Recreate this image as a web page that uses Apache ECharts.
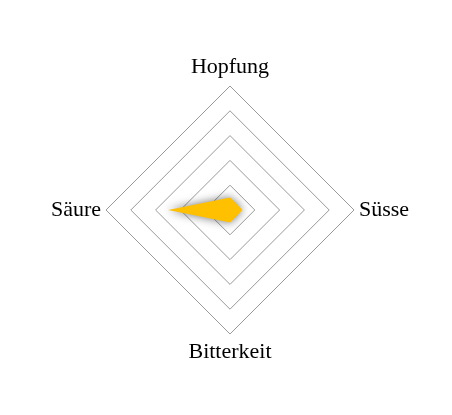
<!DOCTYPE html>
<html>
<head>
<meta charset="utf-8">
<script src="https://cdn.jsdelivr.net/npm/echarts@6/dist/echarts.min.js"></script>
<style>html,body{margin:0;padding:0;background:#fff}#c{width:452px;height:415px}</style>
</head>
<body>
<div id="c"></div>
<script>
// ECharts places indicators counter-clockwise starting from the top
var indicatorNames = ['Hopfung', 'Säure', 'Bitterkeit', 'Süsse'];
var indicatorMax = [10, 10, 10, 10];
var seriesValues = [1, 5, 1, 1];

var chart = echarts.init(document.getElementById('c'), null, {renderer: 'canvas'});
chart.setOption({
  animation: false,
  backgroundColor: '#fff',
  radar: {
    center: [230, 210],
    radius: 124,
    startAngle: 90,
    shape: 'polygon',
    splitNumber: 5,
    nameGap: 5,
    indicator: indicatorNames.map(function (n, i) { return {name: n, max: indicatorMax[i]}; }),
    axisName: {color: '#000', fontFamily: 'Liberation Serif', fontSize: 22, lineHeight: 27},
    axisLine: {show: false},
    axisTick: {show: false},
    splitArea: {show: false},
    splitLine: {lineStyle: {color: '#9a9a9a', width: 1}}
  },
  series: [{
    type: 'radar',
    symbol: 'none',
    data: [{
      value: seriesValues,
      lineStyle: {width: 0, color: '#FFC000'},
      areaStyle: {color: '#FFC000', opacity: 1, shadowBlur: 10, shadowColor: 'rgba(0,0,0,0.55)'}
    }]
  }]
});
</script>
</body>
</html>
